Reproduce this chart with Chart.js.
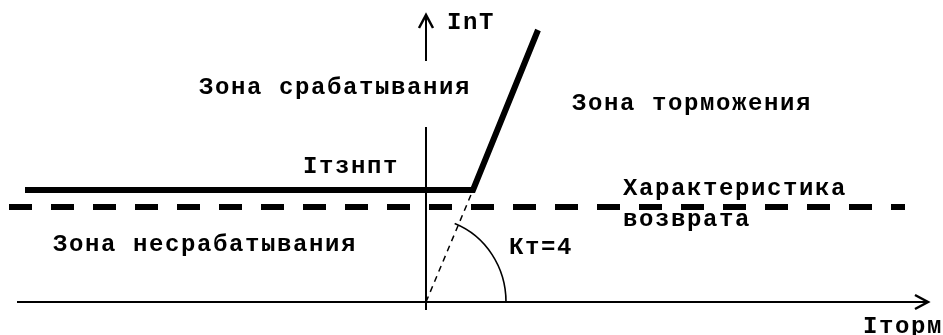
<!DOCTYPE html>
<html>
<head>
<meta charset="utf-8">
<script src="https://cdn.jsdelivr.net/npm/chart.js@4/dist/chart.umd.min.js"></script>
<style>
html,body{margin:0;padding:0;background:#fff;}
#wrap{width:943px;height:335px;position:relative;}
</style>
</head>
<body>
<div id="wrap"><canvas id="c"></canvas></div>
<script>
// Operating characteristic (thick line): horizontal threshold, then slope
const operateX = [-40.1, 4.7, 11.2];
const operateY = [11.2, 11.2, 27.2];
// Return characteristic (thick dashed)
const returnX = [-41.7, 47.9];
const returnY = [9.5, 9.5];
// Slope extension to origin (thin dashed)
const slopeX = [0, 4.7];
const slopeY = [0, 11.2];
// Axes
const axisXX = [-40.9, 50.2];
const axisXY = [0, 0];
const axisYLowX = [0, 0];
const axisYLowY = [-0.8, 17.5];
const axisYTopX = [0, 0];
const axisYTopY = [24.1, 28.7];
// Angle arc radius (data units along x)
const arcRadius = [8.0];
// Text labels
const labelTexts = ["InT", "Зона срабатывания", "Зона торможения", "Iтзнпт",
  "Характеристика", "возврата", "Зона несрабатывания", "Кт=4", "Iторм"];
const labelX = [2.1, -22.7, 14.6, -12.3, 19.7, 19.7, -37.3, 8.3, 43.7];
const labelY = [27.9, 21.4, 19.8, 13.5, 11.3, 8.2, 5.7, 5.4, -2.5];

function pts(xs, ys){ return xs.map((x,i)=>({x:x, y:ys[i]})); }

const decor = {
  id:'decor',
  afterDatasetsDraw(chart){
    const ctx = chart.ctx, sx = chart.scales.x, sy = chart.scales.y;
    const px = v=>sx.getPixelForValue(v), py = v=>sy.getPixelForValue(v);
    ctx.save();
    ctx.strokeStyle='#000'; ctx.fillStyle='#000';
    // arc
    const cx = px(0), cy = py(0);
    const r = px(arcRadius[0]) - cx;
    ctx.lineWidth = 1.6;
    ctx.beginPath();
    ctx.ellipse(cx, cy, r, r*1.05, 0, 0, -69*Math.PI/180, true);
    ctx.stroke();
    // arrowheads
    ctx.lineWidth = 2.5;
    ctx.lineJoin = 'miter';
    const tx = px(axisYTopX[1]), ty = py(axisYTopY[1]);
    ctx.beginPath();
    ctx.moveTo(tx-7, ty+13); ctx.lineTo(tx, ty); ctx.lineTo(tx+7, ty+13);
    ctx.stroke();
    const hx = px(axisXX[1]), hy = py(axisXY[1]);
    ctx.beginPath();
    ctx.moveTo(hx-13, hy-7); ctx.lineTo(hx, hy); ctx.lineTo(hx-13, hy+7);
    ctx.stroke();
    // labels
    ctx.font = 'bold 24px "Liberation Mono", monospace';
    try { ctx.letterSpacing = '1.6px'; } catch(e) {}
    ctx.textAlign = 'left'; ctx.textBaseline = 'middle';
    labelTexts.forEach((t,i)=>{ ctx.fillText(t, px(labelX[i]), py(labelY[i])); });
    ctx.restore();
  }
};

const base = {pointRadius:0, borderColor:'#000', fill:false, showLine:true, tension:0};
new Chart(document.getElementById('c'), {
  type:'scatter',
  data:{datasets:[
    Object.assign({}, base, {data:pts(operateX, operateY), borderWidth:6, borderJoinStyle:'miter', borderCapStyle:'butt'}),
    Object.assign({}, base, {data:pts(returnX, returnY), borderWidth:6, borderDash:[23,19], borderCapStyle:'butt'}),
    Object.assign({}, base, {data:pts(slopeX, slopeY), borderWidth:1.5, borderDash:[6,5]}),
    Object.assign({}, base, {data:pts(axisXX, axisXY), borderWidth:2}),
    Object.assign({}, base, {data:pts(axisYLowX, axisYLowY), borderWidth:2}),
    Object.assign({}, base, {data:pts(axisYTopX, axisYTopY), borderWidth:2})
  ]},
  options:{
    responsive:true, maintainAspectRatio:false, animation:false,
    layout:{padding:0},
    plugins:{legend:{display:false}, tooltip:{enabled:false}},
    scales:{
      x:{type:'linear', min:-42.6, max:51.7, display:false},
      y:{type:'linear', min:-3.3, max:30.2, display:false}
    }
  },
  plugins:[decor]
});
</script>
</body>
</html>
